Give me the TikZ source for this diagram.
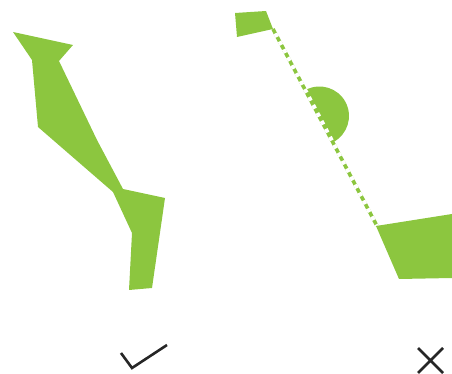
\documentclass[tikz,border=0pt]{standalone}
\definecolor{leaf}{RGB}{140,198,63}
\begin{document}
\begin{tikzpicture}[x=1pt,y=1pt,
  greenfill/.style={fill=leaf},
  markline/.style={draw=black!85,line width=2.6pt,line cap=butt,line join=miter}]
\useasboundingbox (0,0) rectangle (452,374);
% left shape
\fill[greenfill] (13,342) -- (73,329) -- (59,313) -- (97,234) -- (123,185) -- (165,176)
  -- (152,86) -- (129,84) -- (132,141) -- (113,182) -- (38,247) -- (32,314) -- cycle;
% right: flag
\fill[greenfill] (235,361) -- (266,363) -- (273,345) -- (237,337) -- cycle;
% half disc
\coordinate (c) at (319.5,258);
\fill[greenfill] (c) ++(117.8:29.5pt) arc[start angle=117.8,end angle=-62.2,radius=29.5pt] -- cycle;
% dashed line
\coordinate (la) at (273,345);
\coordinate (lb) at (377,148);
\draw[leaf,line width=3.6pt] (la) -- (lb);
\draw[white,line width=4pt,dash pattern=on 4pt off 5pt,dash phase=-5pt] (la) -- (lb);
% bottom shape
\fill[greenfill] (376,148) -- (452,160) -- (452,96) -- (399,95) -- cycle;
% check mark
\draw[markline] (121,21) -- (132,6) -- (167,29);
% cross
\draw[markline] (418,26) -- (443,1) (443,26) -- (418,1);
\end{tikzpicture}
\end{document}
